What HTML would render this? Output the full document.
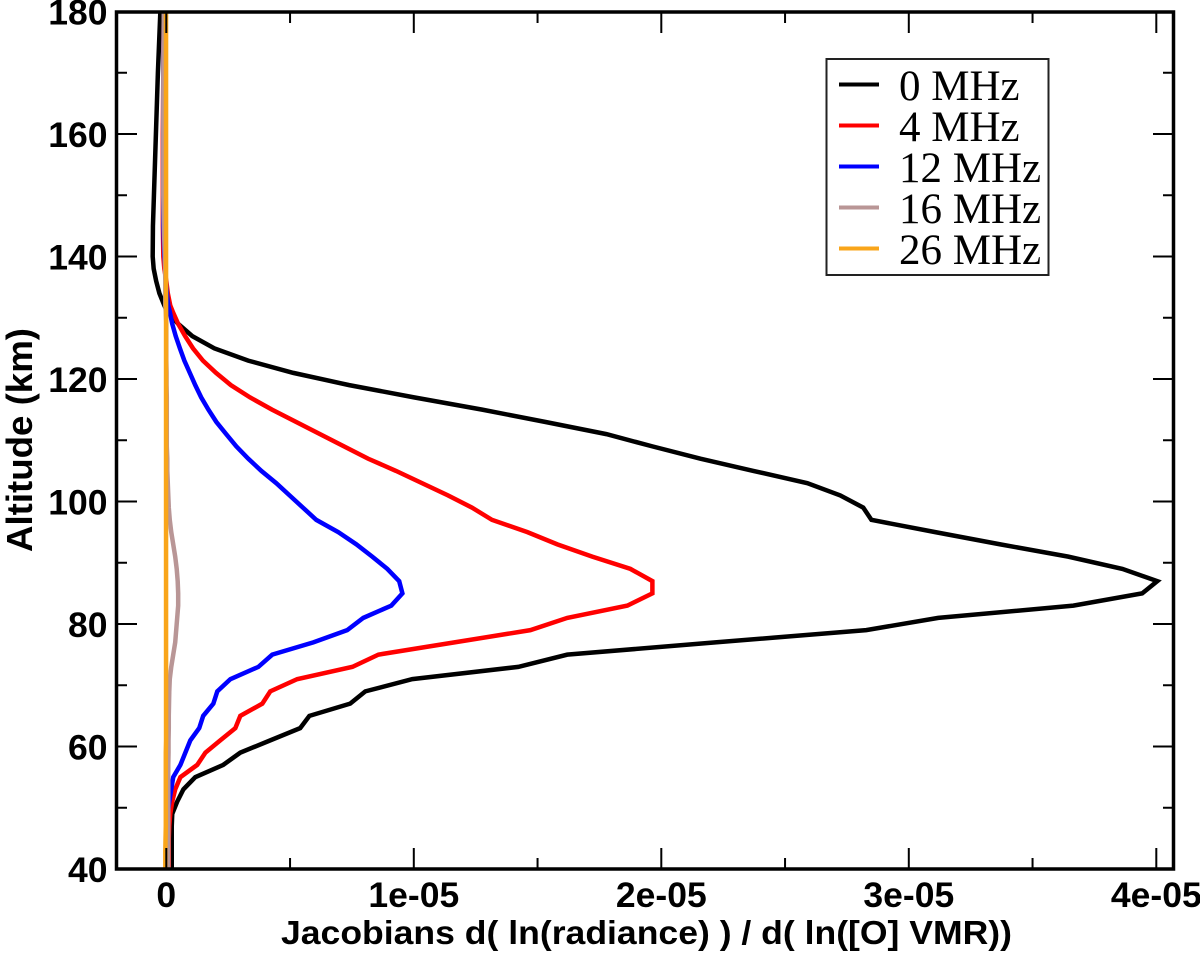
<!DOCTYPE html>
<html>
<head>
<meta charset="utf-8">
<title>Jacobians vs Altitude</title>
<style>
html,body{margin:0;padding:0;background:#fff;}
svg{display:block;}
.tick-label{font-family:"Liberation Sans",sans-serif;font-weight:bold;font-size:35.5px;fill:#000;}
.axis-title{font-family:"Liberation Sans",sans-serif;font-weight:bold;font-size:33.5px;fill:#000;}
.y-title{font-size:36px;}
.legend-label{font-family:"Liberation Serif",serif;font-size:43px;fill:#000;}
</style>
</head>
<body>
<svg id="chart" xmlns="http://www.w3.org/2000/svg" width="1200" height="957" viewBox="0 0 1200 957">
<rect x="0" y="0" width="1200" height="957" fill="#ffffff"/>
<g id="series-layer"></g>
<g id="axis-layer"></g>
<rect x="116.5" y="12" width="1057" height="857" fill="none" stroke="#000" stroke-width="3.5"/>
<text class="axis-title" x="281" y="944" textLength="731" lengthAdjust="spacingAndGlyphs">Jacobians d( ln(radiance) ) / d( ln([O] VMR))</text>
<text class="axis-title y-title" transform="translate(32,552) rotate(-90)" x="0" y="0" textLength="224" lengthAdjust="spacingAndGlyphs">Altitude (km)</text>
<g id="legend">
<rect x="826.5" y="59" width="222" height="216" fill="#fff" stroke="#222" stroke-width="2"/>
</g>
</svg>
<script>
// Shared altitude grid (km)
const altitudes = [180,170,160,150,145,140,138,136,134,132,131,
129,127,125,123,121,119,117,115,113,111,
109,107,105,103,101,99,97,95,93,91,
89,87,85,83,81,79,77,75,73,71,
69,67,65,63,61,59,57,55,53,51,49,
47,45,43,40];

// Jacobians in units of 1e-05
const jacobian0MHz = [-.024,-.034,-.042,-.05,-.054,-.055,-.051,-.041,-.028,-.008,.004,
.048,.105,.194,.331,.513,.739,1.001,1.276,1.53,1.778,
1.964,2.158,2.372,2.59,2.723,2.816,2.849,3.107,3.37,3.644,
3.863,4.004,3.943,3.665,3.119,2.828,2.218,1.62,1.422,.994,
.804,.743,.578,.541,.42,.299,.23,.117,.069,.044,.024,
.022,.022,.022,.022];
const jacobian4MHz = [-.010,-.012,-.014,-.014,-.014,-.012,-.008,0,.006,.016,.026,
.048,.076,.108,.148,.201,.261,.338,.427,.524,.621,
.718,.815,.928,1.033,1.138,1.235,1.316,1.459,1.58,1.721,
1.875,1.964,1.964,1.863,1.62,1.471,1.164,.857,.752,.529,
.42,.388,.299,.279,.218,.158,.125,.057,.036,.024,.016,
.012,.01,.01,.01];
const jacobian12MHz = [-.010,-.012,-.012,-.012,-.012,-.008,-.004,-.002,.002,.008,.014,
.024,.038,.055,.073,.095,.117,.141,.17,.202,.242,
.283,.331,.384,.444,.498,.552,.606,.695,.768,.832,
.893,.941,.954,.909,.796,.731,.594,.428,.372,.259,
.206,.19,.149,.133,.097,.077,.057,.028,.02,.012,.006,
.004,.004,.004,.004];
const jacobian16MHz = [-.010,-.012,-.012,-.012,-.010,-.006,-.005,-.004,-.004,-.004,-.002,
0,0,0,0,.001,.001,.002,.002,.002,.002,
.002,.004,.004,.006,.008,.01,.014,.02,.028,.036,
.042,.046,.048,.048,.044,.04,.036,.028,.02,.014,
.012,.011,.01,.01,.009,.009,.008,.008,.008,.008,.008,
.008,.008,.008,.008];
const jacobian26MHz = [-.001,-.001,-.001,-.001,-.001,-.001,-.001,-.001,-.001,-.001,-.001,
-.001,-.001,-.001,-.001,-.001,-.001,-.001,-.001,-.001,-.001,
-.001,-.001,-.001,-.001,-.001,-.001,-.001,-.001,-.001,-.001,
-.001,-.001,-.001,-.001,-.001,-.001,-.001,-.001,-.001,-.001,
-.001,-.001,-.001,-.001,-.001,-.002,-.002,-.002,-.002,-.002,-.002,
-.002,-.003,-.004,-.004];

const seriesLabels = ['0 MHz','4 MHz','12 MHz','16 MHz','26 MHz'];
const seriesColors = ['#000000','#ff0000','#0000ff','#b99696','#f9a51a'];
const seriesSlugs = ['0-mhz','4-mhz','12-mhz','16-mhz','26-mhz'];
const seriesValues = [jacobian0MHz,jacobian4MHz,jacobian12MHz,jacobian16MHz,jacobian26MHz];

const xMajorTicks = [0,1,2,3,4];
const xMajorLabels = ['0','1e-05','2e-05','3e-05','4e-05'];
const xMinorTicks = [.5,1.5,2.5,3.5];
const yMajorTicks = [40,60,80,100,120,140,160,180];
const yMinorTicks = [50,70,90,110,130,150,170];

const NS = 'http://www.w3.org/2000/svg';
function xScale(v){ return 166.3 + v * 247.5; }
function yScale(a){ return 869 - (a - 40) * 6.125; }
function make(tag, attrs, parent){
  const el = document.createElementNS(NS, tag);
  for (const k in attrs) el.setAttribute(k, attrs[k]);
  parent.appendChild(el);
  return el;
}

const seriesLayer = document.getElementById('series-layer');
seriesValues.forEach(function(vals, s){
  const pts = vals.map(function(v, i){ return xScale(v).toFixed(2) + ',' + yScale(altitudes[i]).toFixed(2); }).join(' ');
  const line = make('polyline', {points: pts, fill: 'none', stroke: seriesColors[s], 'stroke-width': 4.5, 'stroke-linejoin': 'miter'}, seriesLayer);
  
  
});

const axisLayer = document.getElementById('axis-layer');
function tick(x1, y1, x2, y2, name){
  const t = make('line', {x1: x1, y1: y1, x2: x2, y2: y2, stroke: '#000', 'stroke-width': 2}, axisLayer);
  
  
}
xMajorTicks.forEach(function(v, i){
  const x = xScale(v);
  tick(x, 869, x, 848, 'x-major-tick');
  tick(x, 12, x, 33, 'x-major-tick-top');
  const label = make('text', {class: 'tick-label', x: x, y: 907, 'text-anchor': 'middle'}, axisLayer);
  
  
  label.textContent = xMajorLabels[i];
});
xMinorTicks.forEach(function(v){
  const x = xScale(v);
  tick(x, 869, x, 858, 'x-minor-tick');
  tick(x, 12, x, 23, 'x-minor-tick-top');
});
yMajorTicks.forEach(function(a){
  const y = yScale(a);
  tick(116, y, 137, y, 'y-major-tick');
  tick(1174, y, 1153, y, 'y-major-tick-right');
  const label = make('text', {class: 'tick-label', x: 107.5, y: y + 13, 'text-anchor': 'end'}, axisLayer);
  
  
  label.textContent = String(a);
});
yMinorTicks.forEach(function(a){
  const y = yScale(a);
  tick(116, y, 127, y, 'y-minor-tick');
  tick(1174, y, 1163, y, 'y-minor-tick-right');
});

const legend = document.getElementById('legend');
seriesLabels.forEach(function(name, i){
  const y = 84.5 + i * 41;
  const key = make('line', {x1: 839, y1: y, x2: 879, y2: y, stroke: seriesColors[i], 'stroke-width': 4}, legend);
  
  
  const text = make('text', {class: 'legend-label', x: 899, y: y + 15.5}, legend);
  
  
  text.textContent = name;
});
</script>
</body>
</html>
